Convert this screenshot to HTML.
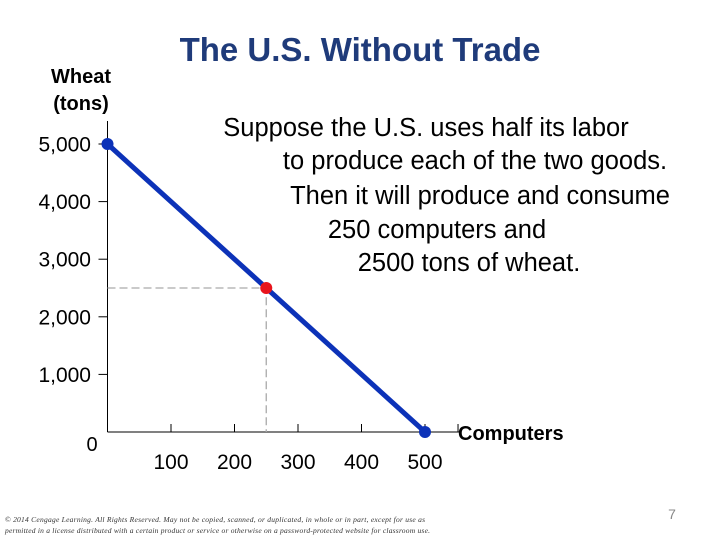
<!DOCTYPE html>
<html><head><meta charset="utf-8"><style>
body{margin:0;width:720px;height:540px;background:#fff;overflow:hidden;font-family:"Liberation Sans",sans-serif;}
svg{position:absolute;left:0;top:0}
</style></head><body>
<svg width="720" height="540">
<text x="360" y="61" text-anchor="middle" font-size="33" font-weight="bold" fill="#1f3b7a">The U.S. Without Trade</text>
<text x="81" y="83" text-anchor="middle" font-size="20" font-weight="bold"><tspan x="81">Wheat</tspan><tspan x="81" dy="27">(tons)</tspan></text>
<g font-size="25.5" text-anchor="middle" fill="#000">
<text x="426" y="136">Suppose the U.S. uses half its labor</text>
<text x="475" y="169">to produce each of the two goods.</text>
<text x="480" y="204">Then it will produce and consume</text>
<text x="437" y="238">250 computers  and</text>
<text x="469" y="271">2500 tons of wheat.</text>
</g>
<g id="axes"></g>
<g id="marks"></g>
<text x="458" y="440" font-size="20" font-weight="bold">Computers</text>
<g font-family="Liberation Serif,serif" font-style="italic" font-size="7.5" fill="#333">
<text x="5" y="522" textLength="420">© 2014 Cengage Learning. All Rights Reserved. May not be copied, scanned, or duplicated, in whole or in part, except for use as</text>
<text x="5" y="533" textLength="425">permitted in a license distributed with a certain product or service or otherwise on a password-protected website for classroom use.</text>
</g>
<text x="672" y="519" font-size="14" fill="#888" text-anchor="middle">7</text>
</svg>
<script>
const xTicks=[100,200,300,400,500];
const yTicks=[1000,2000,3000,4000,5000];
const yTickLabels=["1,000","2,000","3,000","4,000","5,000"];
const ppfComputers=[0,500];
const ppfWheat=[5000,0];
const chosenComputers=[250];
const chosenWheat=[2500];
const X0=107.5,Y0=432;
const xs=v=>X0+v*0.635;
const ys=v=>Y0-v*0.0576;
const NS="http://www.w3.org/2000/svg";
function mk(t,a,p){const e=document.createElementNS(NS,t);for(const k in a)e.setAttribute(k,a[k]);p.appendChild(e);return e;}
const ax=document.getElementById('axes'),mk2=document.getElementById('marks');
let l=mk('line',{x1:X0,y1:Y0,x2:X0,y2:121,stroke:'#000','stroke-width':1},ax);


l=mk('line',{x1:X0,y1:Y0,x2:460,y2:Y0,stroke:'#000','stroke-width':1},ax);


yTicks.forEach((v,i)=>{
 const t=mk('line',{x1:X0-9,y1:ys(v),x2:X0,y2:ys(v),stroke:'#000'},ax);
 
 
 const tx=mk('text',{x:91,y:ys(v)+7.5,'text-anchor':'end','font-size':21},ax);
 tx.textContent=yTickLabels[i];
 
 
});
const z=mk('text',{x:92,y:451,'text-anchor':'middle','font-size':20},ax);z.textContent='0';


xTicks.concat([552]).forEach(v=>{
 const t=mk('line',{x1:xs(v),y1:Y0-8,x2:xs(v),y2:Y0,stroke:'#000'},ax);
 
 
});
xTicks.forEach(v=>{
 const tx=mk('text',{x:xs(v),y:469,'text-anchor':'middle','font-size':21},ax);
 tx.textContent=String(v);
 
 
});
const cx=xs(chosenComputers[0]),cy=ys(chosenWheat[0]);
let g=mk('path',{d:`M${X0} ${cy}H${cx}V${Y0}`,fill:'none',stroke:'#aaa','stroke-dasharray':'8 4','stroke-width':1.3},mk2);


let p=mk('line',{x1:xs(ppfComputers[0]),y1:ys(ppfWheat[0]),x2:xs(ppfComputers[1]),y2:ys(ppfWheat[1]),stroke:'#0c32b8','stroke-width':5},mk2);


ppfComputers.forEach((c,i)=>{
 const d=mk('circle',{cx:xs(c),cy:ys(ppfWheat[i]),r:6,fill:'#0c32b8'},mk2);
 
 
});
const r=mk('circle',{cx:cx,cy:cy,r:6,fill:'#e8141c'},mk2);


</script>
</body></html>
